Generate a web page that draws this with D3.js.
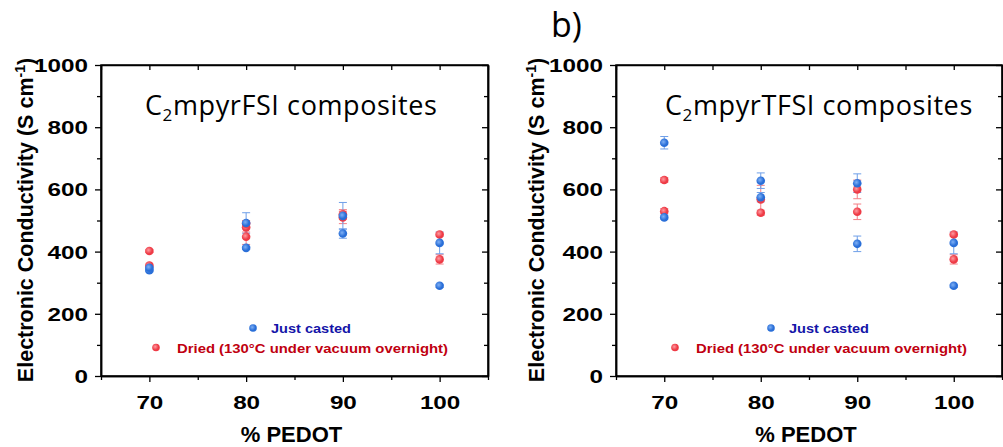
<!DOCTYPE html>
<html>
<head>
<meta charset="utf-8">
<script src="https://cdn.jsdelivr.net/npm/d3@7"></script>
<style>
  body { margin: 0; background: #fff; }
  svg { display: block; }
</style>
</head>
<body>
<script>
// x values (% PEDOT) and axis ticks
const pedotTicks = [70, 80, 90, 100];
const pedotMinor = [65, 75, 85, 95, 105];
const condTicks = [0, 200, 400, 600, 800, 1000];
const condMinor = [100, 300, 500, 700, 900];

// C2mpyrFSI composites
const fsiCastX = [70, 70, 80, 80, 90, 90, 100, 100];
const fsiCastY = [340, 348, 412, 492, 458, 515, 428, 290];
const fsiCastErr = [5, 5, 5, 33, 15, 43, 35, 5];
const fsiDriedX = [70, 70, 80, 80, 80, 90, 90, 100, 100];
const fsiDriedY = [402, 355, 448, 478, 490, 510, 520, 455, 375];
const fsiDriedErr = [5, 5, 25, 15, 10, 20, 15, 5, 15];

// C2mpyrTFSI composites
const tfsiCastX = [70, 70, 80, 80, 90, 90, 100, 100];
const tfsiCastY = [750, 510, 628, 575, 620, 425, 428, 290];
const tfsiCastErr = [20, 5, 25, 15, 30, 25, 35, 5];
const tfsiDriedX = [70, 70, 80, 80, 90, 90, 100, 100];
const tfsiDriedY = [630, 530, 568, 525, 600, 528, 455, 375];
const tfsiDriedErr = [8, 8, 45, 8, 30, 25, 5, 15];

const legendLabels = ['Just casted', 'Dried (130\u00B0C under vacuum overnight)'];

const width = 1003, height = 447;
const blue = '#2a6fd8', red = '#ee3b46';
const sans = '"Liberation Sans", Arial, sans-serif';

const svg = d3.select('body').append('svg')
  .attr('width', width)
  .attr('height', height)
  .style('font-family', sans);

// little 3D look on the markers
const defs = svg.append('defs');
[['gBlue', '#7fb0f5', blue], ['gRed', '#ff9aa0', red]].forEach(([id, c0, c1]) => {
  const g = defs.append('radialGradient').attr('id', id).attr('cx', '40%').attr('cy', '40%').attr('r', '60%');
  g.append('stop').attr('offset', '0%').attr('stop-color', c0);
  g.append('stop').attr('offset', '70%').attr('stop-color', c1);
});

// panel label
svg.append('text')
  .attr('x', 551).attr('y', 37)
  .style('font-family', '"Open Sans", sans-serif')
  .style('font-size', '34px')
  .text('b)');

function toPoints(xs, ys, errs) {
  return xs.map((x, i) => ({ x: x, y: ys[i], e: errs[i] }));
}

function drawPanel(opt) {
  const x = d3.scaleLinear().domain([65, 105]).range([opt.left, opt.right]);
  const y = d3.scaleLinear().domain([0, 1000]).range([376, 65]);
  const g = svg.append('g');

  // plot frame
  g.append('rect')
    .attr('x', x(65)).attr('y', y(1000))
    .attr('width', x(105) - x(65)).attr('height', y(0) - y(1000))
    .attr('fill', 'none').attr('stroke', '#000').attr('stroke-width', 1.5);

  // bottom axis
  const bottom = g.append('g').attr('transform', `translate(0,${y(0)})`)
    .call(d3.axisBottom(x).tickValues(pedotTicks).tickSizeInner(6).tickSizeOuter(0).tickPadding(9).tickFormat(d3.format('d')));
  g.append('g').attr('transform', `translate(0,${y(0)})`)
    .call(d3.axisBottom(x).tickValues(pedotMinor).tickSizeInner(4).tickSizeOuter(0).tickFormat(''));
  // top axis, ticks inside
  g.append('g').attr('transform', `translate(0,${y(1000)})`)
    .call(d3.axisTop(x).tickValues(pedotTicks.concat(pedotMinor)).tickSizeInner(-5).tickSizeOuter(0).tickFormat(''));
  // left axis
  const left = g.append('g').attr('transform', `translate(${x(65)},0)`)
    .call(d3.axisLeft(y).tickValues(condTicks).tickSizeInner(6).tickSizeOuter(0).tickPadding(7).tickFormat(d3.format('d')));
  g.append('g').attr('transform', `translate(${x(65)},0)`)
    .call(d3.axisLeft(y).tickValues(condMinor).tickSizeInner(4).tickSizeOuter(0).tickFormat(''));
  // right axis, ticks inside
  g.append('g').attr('transform', `translate(${x(105)},0)`)
    .call(d3.axisRight(y).tickValues(condTicks).tickSizeInner(-6).tickSizeOuter(0).tickFormat(''));
  g.append('g').attr('transform', `translate(${x(105)},0)`)
    .call(d3.axisRight(y).tickValues(condMinor).tickSizeInner(-4).tickSizeOuter(0).tickFormat(''));

  g.selectAll('.domain').attr('stroke', '#000').attr('stroke-width', 1.5);
  g.selectAll('.tick line').attr('stroke', '#000').attr('stroke-width', 1.3);

  [bottom, left].forEach(a => a.selectAll('text')
    .style('font-family', sans)
    .style('font-size', '18px').style('font-weight', 'bold').attr('fill', '#000')
    .attr('lengthAdjust', 'spacingAndGlyphs')
    .attr('textLength', function () { return this.textContent.length * 13.5; }));
  bottom.selectAll('text').attr('dy', '1em');
  left.selectAll('text').attr('dy', '0.36em');

  // axis titles
  g.append('text')
    .attr('x', (x(65) + x(105)) / 2 - 3).attr('y', 442)
    .attr('text-anchor', 'middle')
    .style('font-size', '22px').style('font-weight', 'bold')
    .text('% PEDOT');

  const yl = g.append('text')
    .attr('transform', `translate(${opt.yLabelX},220) rotate(-90)`)
    .attr('text-anchor', 'middle')
    .style('font-size', '21.5px').style('font-weight', 'bold');
  yl.append('tspan').text('Electronic Conductivity (S cm');
  yl.append('tspan').attr('dy', -8).style('font-size', '14px').text('-1');
  yl.append('tspan').attr('dy', 8).text(')');

  // panel title
  const t = g.append('text')
    .attr('x', opt.titleX).attr('y', 115)
    .style('font-family', '"Open Sans", sans-serif')
    .style('font-size', '27px')
    .style('letter-spacing', '0.6px');
  t.append('tspan').text('C');
  t.append('tspan').attr('dy', 6).style('font-size', '17px').text('2');
  t.append('tspan').attr('dy', -6).text(opt.title);

  // series: error bars then markers
  const series = [
    { pts: opt.dried, col: red, light: '#f47f86', grad: 'url(#gRed)' },
    { pts: opt.cast, col: blue, light: '#6f9fe8', grad: 'url(#gBlue)' }
  ];
  series.forEach(s => {
    const eg = g.append('g').attr('stroke', s.light).attr('stroke-width', 1).attr('fill', 'none');
    eg.selectAll('path').data(s.pts).join('path')
      .attr('d', d => {
        const cx = x(d.x), y0 = y(d.y - d.e), y1 = y(d.y + d.e);
        return `M${cx},${y0}V${y1}M${cx - 4},${y0}H${cx + 4}M${cx - 4},${y1}H${cx + 4}`;
      });
  });
  series.forEach(s => {
    g.append('g').selectAll('circle').data(s.pts).join('circle')
      .attr('cx', d => x(d.x)).attr('cy', d => y(d.y))
      .attr('r', 4.3)
      .attr('fill', s.grad);
  });

  // legend
  const lg = g.append('g').style('font-weight', 'bold').style('font-size', '13.5px');
  lg.append('circle').attr('cx', opt.leg[0]).attr('cy', 328).attr('r', 3.8).attr('fill', 'url(#gBlue)');
  lg.append('text').attr('x', opt.leg[0] + 18).attr('y', 333).attr('fill', '#1414a8')
    .attr('textLength', 80).attr('lengthAdjust', 'spacingAndGlyphs').text(legendLabels[0]);
  lg.append('circle').attr('cx', opt.leg[1]).attr('cy', 347.5).attr('r', 3.8).attr('fill', 'url(#gRed)');
  lg.append('text').attr('x', opt.leg[1] + 21).attr('y', 353).attr('fill', '#c00010')
    .attr('textLength', 271).attr('lengthAdjust', 'spacingAndGlyphs').text(legendLabels[1]);
}

drawPanel({
  left: 101, right: 488, yLabelX: 33, titleX: 145, title: 'mpyrFSI composites',
  cast: toPoints(fsiCastX, fsiCastY, fsiCastErr),
  dried: toPoints(fsiDriedX, fsiDriedY, fsiDriedErr),
  leg: [253, 156]
});

drawPanel({
  left: 616, right: 1002, yLabelX: 544, titleX: 665, title: 'mpyrTFSI composites',
  cast: toPoints(tfsiCastX, tfsiCastY, tfsiCastErr),
  dried: toPoints(tfsiDriedX, tfsiDriedY, tfsiDriedErr),
  leg: [771, 675]
});
</script>
</body>
</html>
